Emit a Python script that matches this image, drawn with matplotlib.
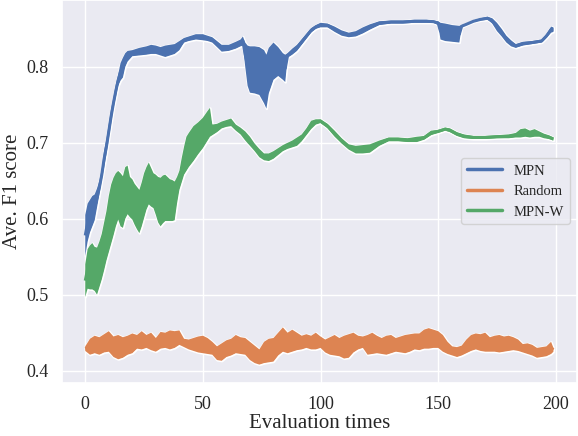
import matplotlib
matplotlib.use("Agg")
import matplotlib.pyplot as plt
from matplotlib.lines import Line2D
import numpy as np
import seaborn as sns

sns.set_theme(style="darkgrid")
plt.rcParams['font.family'] = ['Liberation Serif', 'DejaVu Serif']

# ---- MPN band ----
mpn_x = [0, 1, 2, 3, 4, 5, 6, 7, 8, 9, 10, 11, 12, 13, 14, 15, 16, 17, 18, 20,
         23, 26, 28, 30, 32, 34, 36, 38, 40, 42, 44, 47, 50, 52, 54, 56, 58, 61,
         64, 66, 67, 68, 69, 70, 72, 74, 76, 77, 78, 80, 82, 84, 85, 86, 88, 90,
         93, 96, 98, 100, 103, 106, 109, 112, 115, 118, 121, 125, 130, 135, 140,
         145, 148, 150, 151, 153, 156, 159, 160, 162, 165, 168, 171, 173, 175,
         177, 179, 181, 183, 186, 190, 194, 196, 198, 199]
mpn_hi = [0.605, 0.620, 0.625, 0.630, 0.632, 0.640, 0.650, 0.665, 0.690, 0.705,
          0.725, 0.745, 0.760, 0.777, 0.790, 0.805, 0.812, 0.818, 0.821, 0.822,
          0.825, 0.827, 0.829, 0.828, 0.826, 0.828, 0.829, 0.830, 0.834, 0.838,
          0.840, 0.843, 0.843, 0.841, 0.839, 0.834, 0.829, 0.829, 0.833, 0.836,
          0.840, 0.832, 0.828, 0.827, 0.827, 0.826, 0.822, 0.816, 0.825, 0.832,
          0.826, 0.818, 0.816, 0.818, 0.824, 0.829, 0.840, 0.851, 0.855, 0.858,
          0.857, 0.853, 0.848, 0.845, 0.847, 0.852, 0.856, 0.860, 0.861, 0.861,
          0.862, 0.862, 0.861, 0.860, 0.858, 0.857, 0.855, 0.854, 0.855, 0.857,
          0.861, 0.864, 0.866, 0.864, 0.858, 0.850, 0.841, 0.835, 0.830, 0.833,
          0.834, 0.836, 0.843, 0.853, 0.852]
mpn_lo = [0.551, 0.570, 0.582, 0.590, 0.598, 0.615, 0.632, 0.650, 0.667, 0.685,
          0.705, 0.725, 0.745, 0.760, 0.775, 0.782, 0.786, 0.800, 0.807, 0.814,
          0.815, 0.816, 0.817, 0.817, 0.815, 0.813, 0.815, 0.817, 0.822, 0.832,
          0.834, 0.836, 0.835, 0.834, 0.832, 0.826, 0.820, 0.821, 0.824, 0.827,
          0.828, 0.800, 0.775, 0.766, 0.765, 0.763, 0.752, 0.745, 0.765, 0.783,
          0.788, 0.783, 0.780, 0.812, 0.816, 0.821, 0.833, 0.845, 0.850, 0.852,
          0.852, 0.846, 0.841, 0.839, 0.840, 0.844, 0.849, 0.855, 0.857, 0.857,
          0.858, 0.858, 0.858, 0.855, 0.836, 0.834, 0.833, 0.832, 0.852, 0.855,
          0.859, 0.861, 0.862, 0.857, 0.847, 0.840, 0.832, 0.827, 0.825, 0.828,
          0.830, 0.832, 0.838, 0.845, 0.846]

# ---- Random band ----
rnd_x = list(range(0, 200, 2)) + [199]
rnd_hi = [0.432, 0.442, 0.446, 0.444, 0.448, 0.452, 0.445, 0.447, 0.444, 0.446,
          0.449, 0.447, 0.452, 0.447, 0.450, 0.443, 0.451, 0.450, 0.453, 0.452,
          0.453, 0.442, 0.441, 0.443, 0.445, 0.446, 0.443, 0.438, 0.432, 0.436,
          0.440, 0.442, 0.447, 0.444, 0.443, 0.438, 0.433, 0.428, 0.438, 0.442,
          0.443, 0.450, 0.457, 0.450, 0.454, 0.450, 0.446, 0.448, 0.446, 0.450,
          0.445, 0.441, 0.444, 0.447, 0.443, 0.446, 0.448, 0.450, 0.446, 0.445,
          0.447, 0.450, 0.446, 0.443, 0.446, 0.447, 0.443, 0.445, 0.447, 0.448,
          0.449, 0.449, 0.454, 0.456, 0.454, 0.452, 0.447, 0.438, 0.432, 0.431,
          0.433, 0.441, 0.447, 0.449, 0.448, 0.450, 0.444, 0.446, 0.447, 0.445,
          0.446, 0.444, 0.441, 0.435, 0.436, 0.434, 0.430, 0.431, 0.432, 0.438,
          0.430]
rnd_lo = [0.426, 0.421, 0.423, 0.421, 0.424, 0.425, 0.418, 0.415, 0.417, 0.421,
          0.423, 0.429, 0.428, 0.430, 0.427, 0.425, 0.429, 0.430, 0.428, 0.430,
          0.434, 0.431, 0.428, 0.426, 0.424, 0.423, 0.422, 0.421, 0.414, 0.413,
          0.418, 0.420, 0.423, 0.422, 0.421, 0.414, 0.410, 0.408, 0.410, 0.411,
          0.412, 0.420, 0.425, 0.423, 0.425, 0.427, 0.428, 0.430, 0.428, 0.428,
          0.430, 0.424, 0.421, 0.420, 0.419, 0.416, 0.417, 0.424, 0.428, 0.430,
          0.421, 0.422, 0.423, 0.422, 0.421, 0.423, 0.425, 0.424, 0.423, 0.425,
          0.428, 0.427, 0.429, 0.429, 0.430, 0.430, 0.425, 0.422, 0.420, 0.418,
          0.420, 0.423, 0.426, 0.428, 0.426, 0.425, 0.425, 0.425, 0.424, 0.425,
          0.426, 0.427, 0.426, 0.424, 0.422, 0.420, 0.417, 0.418, 0.419, 0.422,
          0.425]

# ---- MPN-W band ----
mpnw_x = [0, 1, 2, 3, 4, 5, 6, 7, 8, 9, 10, 11, 12, 13, 14, 15, 16, 17, 18, 19,
          20, 21, 22, 23, 24, 25, 26, 27, 28, 29, 30, 31, 32, 33, 34, 35, 36, 37,
          38, 39, 40, 41, 42, 43, 44, 46, 48, 50, 52, 53, 54, 56, 58, 60, 62, 64,
          66, 68, 70, 72, 74, 76, 78, 80, 82, 84, 86, 88, 90, 92, 94, 96, 98, 100,
          103, 106, 109, 112, 115, 118, 121, 125, 129, 133, 137, 141, 144, 147,
          150, 153, 155, 158, 161, 165, 170, 175, 180, 183, 185, 187, 189, 191,
          193, 195, 197, 199]
mpnw_hi = [0.540, 0.560, 0.565, 0.568, 0.563, 0.562, 0.570, 0.580, 0.595, 0.610,
           0.630, 0.645, 0.654, 0.660, 0.663, 0.660, 0.656, 0.668, 0.670, 0.655,
           0.652, 0.646, 0.642, 0.638, 0.648, 0.660, 0.668, 0.674, 0.667, 0.660,
           0.658, 0.655, 0.654, 0.657, 0.658, 0.655, 0.652, 0.651, 0.649, 0.655,
           0.663, 0.680, 0.695, 0.708, 0.713, 0.722, 0.727, 0.733, 0.742, 0.746,
           0.724, 0.725, 0.728, 0.730, 0.732, 0.724, 0.720, 0.715, 0.708, 0.699,
           0.692, 0.686, 0.686, 0.689, 0.693, 0.697, 0.700, 0.703, 0.707, 0.711,
           0.719, 0.729, 0.731, 0.731, 0.725, 0.716, 0.706, 0.698, 0.696, 0.697,
           0.698, 0.703, 0.707, 0.707, 0.706, 0.708, 0.709, 0.716, 0.717, 0.720,
           0.719, 0.714, 0.711, 0.709, 0.709, 0.710, 0.711, 0.713, 0.718, 0.719,
           0.716, 0.718, 0.715, 0.712, 0.710, 0.707]
mpnw_lo = [0.497, 0.508, 0.507, 0.507, 0.505, 0.500, 0.510, 0.520, 0.532, 0.545,
           0.556, 0.567, 0.578, 0.590, 0.599, 0.590, 0.588, 0.600, 0.606, 0.602,
           0.599, 0.592, 0.586, 0.581, 0.590, 0.601, 0.612, 0.619, 0.616, 0.614,
           0.605, 0.595, 0.590, 0.594, 0.597, 0.597, 0.597, 0.597, 0.598, 0.620,
           0.638, 0.648, 0.658, 0.663, 0.668, 0.676, 0.685, 0.693, 0.703, 0.708,
           0.710, 0.714, 0.719, 0.721, 0.722, 0.716, 0.711, 0.703, 0.696, 0.689,
           0.681, 0.677, 0.676, 0.679, 0.684, 0.689, 0.692, 0.694, 0.696, 0.702,
           0.710, 0.718, 0.724, 0.726, 0.719, 0.708, 0.699, 0.691, 0.686, 0.686,
           0.687, 0.696, 0.702, 0.702, 0.701, 0.701, 0.704, 0.710, 0.713, 0.716,
           0.714, 0.709, 0.706, 0.705, 0.705, 0.706, 0.706, 0.707, 0.707, 0.708,
           0.707, 0.708, 0.708, 0.706, 0.705, 0.703]

names = ['MPN', 'Random', 'MPN-W']
colors = sns.color_palette('deep')[:3]

fig = plt.figure(figsize=(5.78, 4.36), dpi=100)
ax = fig.add_axes([0.107, 0.122, 0.891, 0.878])

bands = [(mpn_x, mpn_lo, mpn_hi), (rnd_x, rnd_lo, rnd_hi), (mpnw_x, mpnw_lo, mpnw_hi)]
for (xs, lo, hi), c in zip(bands, colors):
    # white outline first, then the mean line and the fill on top
    ax.fill_between(xs, lo, hi, facecolor=c, edgecolor='white', linewidth=1.6)
    mid = (np.array(lo) + np.array(hi)) / 2
    ax.plot(xs, mid, color=c, lw=2.2, solid_capstyle='butt')
    ax.fill_between(xs, lo, hi, facecolor=c, edgecolor='none', linewidth=0)

ax.set_xlim(-9.95, 208.95)
ax.set_ylim(0.384, 0.888)
ax.set_xticks([0, 50, 100, 150, 200])
ax.set_yticks([0.4, 0.5, 0.6, 0.7, 0.8])
ax.tick_params(labelsize=13)
ax.set_xlabel('Evaluation times', fontsize=15, labelpad=1)
ax.set_ylabel('Ave. F1 score', fontsize=15, labelpad=3)

handles = [Line2D([], [], color=c, lw=2.5) for c in colors]
ax.legend(handles, names, loc='center right', fontsize=10.5, frameon=True,
          handlelength=2.4, borderaxespad=0.5)

fig.savefig('out.png', dpi=100)
